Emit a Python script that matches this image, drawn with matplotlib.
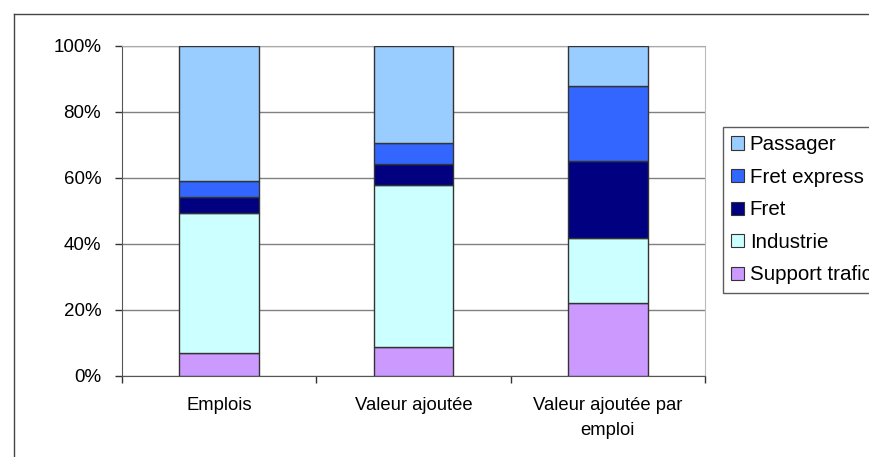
import matplotlib.pyplot as plt
import numpy as np
from matplotlib.patches import Patch
from matplotlib.lines import Line2D

plt.rcParams['font.family'] = ['Liberation Sans', 'DejaVu Sans']

categories = ["Emplois", "Valeur ajoutée", "Valeur ajoutée par\nemploi"]
series_names = ["Support trafic", "Industrie", "Fret", "Fret express", "Passager"]
colors = ['#CC99FF', '#CCFFFF', '#000080', '#3366FF', '#99CCFF']

support_trafic = [7.0, 8.7, 22.2]
industrie = [42.4, 49.1, 19.7]
fret = [4.8, 6.3, 23.3]
fret_express = [4.8, 6.4, 22.7]
passager = [41.0, 29.5, 12.1]

values = [support_trafic, industrie, fret, fret_express, passager]

fig = plt.figure(figsize=(8.69, 4.57), dpi=100)
ax = fig.add_axes([122 / 869, 1 - 376 / 457, (705 - 122) / 869, (376 - 46) / 457])

# outer chart frame (cropped on the right and bottom)
fx, fy = 13.5 / 869, 1 - 13.5 / 457
fig.lines.append(Line2D([fx, 1.0], [fy, fy], transform=fig.transFigure,
                        color='#444444', linewidth=1.0))
fig.lines.append(Line2D([fx, fx], [0.0, fy], transform=fig.transFigure,
                        color='#444444', linewidth=1.0))

x = np.arange(len(categories))
bottom = np.zeros(len(categories))
for name, vals, color in zip(series_names, values, colors):
    ax.bar(x, vals, 0.41, bottom=bottom, color=color, edgecolor='#333333',
           linewidth=1.0, label=name, zorder=3)
    bottom += np.array(vals)

ax.set_xlim(-0.5, 2.5)
ax.set_ylim(0, 100)
ax.set_yticks(np.arange(0, 101, 20))
ax.set_yticklabels([f"{v}%" for v in range(0, 101, 20)])
ax.yaxis.grid(True, color='#808080', linewidth=1.0, zorder=0)
ax.set_xticks(x)
ax.set_xticklabels(categories, linespacing=1.6)
ax.set_xticks([-0.5, 0.5, 1.5, 2.5], minor=True)
ax.tick_params(axis='x', which='major', length=0, pad=15, labelsize=13.3)
ax.tick_params(axis='x', which='minor', length=5, width=1.0, color='#333333', direction='out')
ax.tick_params(axis='y', length=5, width=1.0, color='#333333', pad=10, labelsize=13.5)

for s in ['left', 'bottom']:
    ax.spines[s].set_color('#555555')
ax.spines['top'].set_color('#aaaaaa')
ax.spines['right'].set_color('#bbbbbb')
ax.spines['right'].set_linewidth(0.8)

# legend is cropped at the right edge, as in the original
handles = [Patch(facecolor=c, edgecolor='#333333', linewidth=0.8) for c in colors]
leg = fig.legend(handles[::-1], series_names[::-1], loc='upper left',
                 bbox_to_anchor=(723 / 869, 1 - 127 / 457), fontsize=14.8,
                 handlelength=0.6, handleheight=0.6, handletextpad=0.3,
                 labelspacing=0.66, borderpad=0.4, frameon=True, fancybox=False,
                 edgecolor='#333333', borderaxespad=0)
leg.get_frame().set_linewidth(1.0)

fig.savefig('out.png', dpi=100)
